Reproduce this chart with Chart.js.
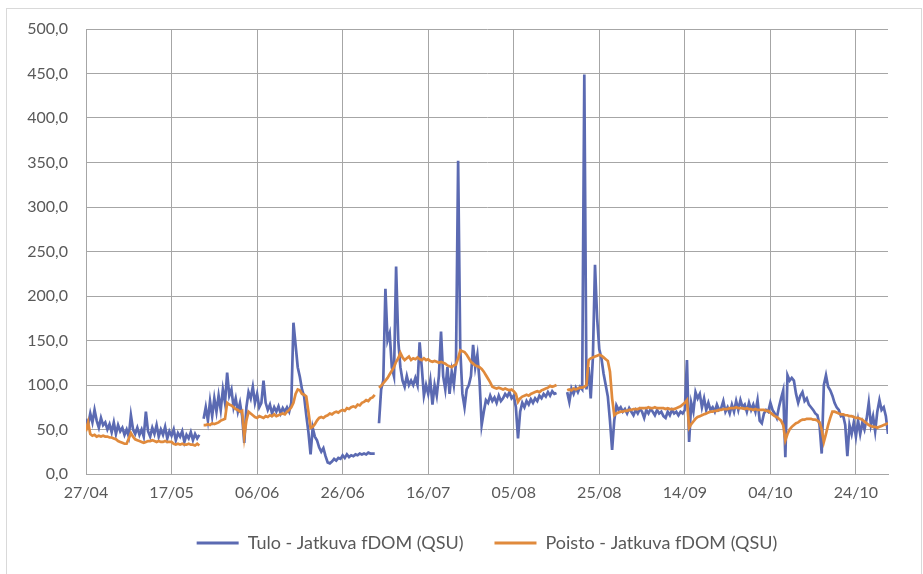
<!DOCTYPE html>
<html>
<head>
<meta charset="utf-8">
<script src="https://cdn.jsdelivr.net/npm/chart.js@4.4.1/dist/chart.umd.min.js"></script>
<style>
  html, body { margin: 0; padding: 0; background: #fff; }
  #wrap { position: relative; width: 923px; height: 574px; overflow: hidden; }
  #chart { display: block; }
  #frame { position: absolute; left: 6px; top: 8px; width: 916px; height: 580px; border: 1px solid #d9d9d9; box-sizing: border-box; pointer-events: none; }
</style>
</head>
<body>
<div id="wrap">
  <canvas id="chart" width="923" height="574"></canvas>
  <div id="frame"></div>
</div>
<script>
// one value every half day, starting 27/04; null = no measurement
const stepDays = 0.5;
const tickLabels = ['27/04', '17/05', '06/06', '26/06', '16/07', '05/08', '25/08', '14/09', '04/10', '24/10'];
const seriesNames = ['Tulo - Jatkuva fDOM (QSU)', 'Poisto - Jatkuva fDOM (QSU)'];

const tulo = [
    62, 55, 68, 58, 72, 60, 52, 63, 55, 58,
    50, 56, 47, 58, 45, 55, 48, 52, 44, 50,
    42, 66, 50, 45, 52, 44, 50, 42, 70, 48,
    42, 52, 45, 55, 42, 50, 44, 53, 40, 48,
    43, 50, 38, 46, 42, 48, 36, 44, 40, 47,
    38, 45, 40, 44, null, 62, 75, 60, 82, 65,
    85, 70, 88, 72, 95, 80, 114, 88, 95, 75,
    85, 70, 80, 65, 35, 75, 92, 85, 98, 80,
    90, 75, 80, 105, 80, 72, 78, 68, 75, 70,
    76, 68, 74, 70, 75, 70, 80, 170, 145, 120,
    109, 95, 87, 66, 47, 22, 52, 42, 38, 30,
    25, 29, 20, 13, 12, 14, 17, 15, 18, 17,
    21, 18, 22, 19, 21, 20, 22, 21, 23, 22,
    23, 22, 24, 23, 23, 23, null, 57, 95, 105,
    208, 150, 158, 120, 110, 233, 150, 120, 105, 98,
    110, 100, 105, 100, 108, 100, 148, 120, 88, 100,
    90, 105, 78, 100, 88, 110, 160, 110, 95, 120,
    90, 115, 100, 125, 352, 140, 90, 75, 95, 100,
    110, 145, 120, 134, 105, 55, 70, 83, 80, 88,
    82, 86, 80, 88, 82, 85, 90, 87, 92, 85,
    88, 75, 40, 70, 80, 75, 82, 78, 84, 80,
    85, 82, 88, 85, 90, 87, 92, 88, 93, 90,
    91, null, null, null, null, 92, 81, 96, 90, 97,
    92, 98, 95, 449, 95, 120, 85, 130, 235, 175,
    140, 130, 113, 100, 87, 60, 27, 60, 77, 72,
    75, 70, 73, 68, 74, 70, 66, 72, 68, 73,
    70, 63, 72, 68, 73, 70, 66, 72, 68, 70,
    65, 63, 70, 66, 72, 68, 70, 66, 70, 68,
    72, 128, 36, 80, 70, 92, 85, 90, 75, 85,
    72, 80, 72, 75, 70, 78, 72, 74, 82, 70,
    75, 68, 78, 70, 82, 72, 83, 75, 78, 70,
    80, 72, 78, 70, 83, 60, 57, 68, 72, 70,
    80, 72, 68, 63, 75, 85, 94, 19, 111, 105,
    108, 105, 90, 80, 88, 92, 82, 85, 78, 75,
    72, 68, 66, 55, 23, 100, 111, 98, 94, 88,
    80, 75, 72, 65, 66, 55, 20, 55, 45, 58,
    42, 60, 45, 58, 50, 62, 80, 55, 65, 48,
    70, 83, 72, 75, 65, 45
];

const poisto = [
    48, 58, 45, 43, 44, 42, 43, 42, 43, 42,
    42, 41, 41, 40, 39, 37, 36, 35, 34, 34,
    40, 46, 42, 39, 38, 37, 36, 35, 36, 37,
    37, 38, 37, 36, 37, 36, 36, 37, 36, 36,
    36, 34, 33, 34, 33, 34, 33, 33, 34, 33,
    33, 32, 34, 32, null, 55, 55, 56, 55, 57,
    56, 57, 58, 60, 61, 62, 80, 78, 77, 75,
    73, 72, 70, 71, 42, 60, 70, 68, 66, 64,
    63, 65, 64, 63, 65, 64, 66, 65, 67, 65,
    66, 67, 68, 67, 70, 72, 75, 80, 90, 95,
    94, 90, 89, 87, 70, 52, 53, 56, 60, 63,
    64, 63, 65, 66, 68, 67, 69, 70, 69, 71,
    72, 71, 74, 73, 75, 76, 75, 78, 77, 80,
    81, 83, 82, 85, 86, 89, null, 97, 99, 102,
    105, 108, 112, 116, 120, 126, 130, 136, 131, 128,
    130, 132, 128, 130, 129, 131, 129, 128, 130, 128,
    129, 127, 126, 127, 126, 125, 126, 125, 124, 122,
    121, 120, 122, 123, 130, 139, 138, 137, 134, 130,
    126, 124, 122, 121, 120, 118, 115, 111, 107, 103,
    98, 97, 96, 97, 96, 95, 96, 95, 94, 95,
    93, 90, 81, 85, 87, 88, 89, 88, 90, 91,
    92, 93, 92, 94, 95, 96, 97, 99, 98, 99,
    100, null, null, null, null, 94, 95, 94, 96, 95,
    96, 97, 97, 98, 100, 128, 130, 131, 132, 133,
    134, 133, 131, 129, 127, 115, 85, 66, 68, 69,
    70, 70, 71, 71, 72, 72, 73, 73, 73, 74,
    74, 74, 74, 75, 74, 74, 75, 74, 74, 74,
    74, 73, 74, 73, 73, 73, 74, 75, 76, 78,
    80, 83, 52, 56, 59, 62, 64, 65, 66, 67,
    68, 69, 70, 70, 71, 71, 72, 72, 73, 73,
    73, 74, 74, 74, 75, 74, 74, 74, 73, 74,
    73, 73, 72, 73, 72, 72, 72, 72, 71, 71,
    69, 67, 65, 64, 62, 60, 55, 38, 45, 50,
    53, 55, 57, 58, 60, 61, 61, 62, 62, 62,
    61, 61, 60, 58, 50, 36, 45, 55, 63, 70,
    70, 69, 68, 67, 67, 66, 66, 65, 65, 64,
    63, 63, 62, 61, 59, 57, 55, 54, 53, 53,
    52, 53, 54, 55, 56, 57
];

const textColor = '#595959';
const gridColor = '#a6a6a6';
const fontFamily = 'Lato, "Open Sans", sans-serif';

function toPoints(values) {
    return values.map((v, i) => ({x: i * stepDays, y: v}));
}

new Chart(document.getElementById('chart'), {
    type: 'line',
    data: {
        datasets: [
            {
                label: seriesNames[0],
                data: toPoints(tulo),
                borderColor: '#5b6ab2',
                backgroundColor: '#5b6ab2',
                borderWidth: 2.7,
                pointRadius: 0,
                tension: 0,
                order: 1
            },
            {
                label: seriesNames[1],
                data: toPoints(poisto),
                borderColor: '#e08a3c',
                backgroundColor: '#e08a3c',
                borderWidth: 2.7,
                pointRadius: 0,
                tension: 0,
                order: 0
            }
        ]
    },
    options: {
        responsive: false,
        animation: false,
        spanGaps: false,
        layout: {padding: {left: 0, right: 35, top: 29, bottom: 12}},
        plugins: {
            tooltip: {enabled: false},
            legend: {
                position: 'bottom',
                fullSize: false,
                labels: {
                    boxWidth: 42,
                    boxHeight: 3,
                    padding: 31,
                    color: textColor,
                    font: {family: fontFamily, size: 18},
                    sort: (a, b) => a.datasetIndex - b.datasetIndex,
                    generateLabels: chart => Chart.defaults.plugins.legend.labels.generateLabels(chart)
                        .map(item => ({...item, fillStyle: item.strokeStyle, lineWidth: 0}))
                }
            }
        },
        scales: {
            x: {
                type: 'linear',
                min: 0,
                max: 187.5,
                afterBuildTicks: scale => {
                    scale.ticks = scale.ticks.filter(t => t.value % 20 === 0);
                },
                afterFit: scale => {
                    scale.height = 29;
                },
                ticks: {
                    stepSize: 20,
                    includeBounds: false,
                    autoSkip: false,
                    maxRotation: 0,
                    padding: 9,
                    color: textColor,
                    font: {family: fontFamily, size: 16},
                    callback: v => tickLabels[v / 20]
                },
                grid: {color: gridColor, drawTicks: false},
                border: {color: gridColor}
            },
            y: {
                min: 0,
                max: 500,
                afterFit: scale => {
                    scale.width = 86;
                },
                ticks: {
                    stepSize: 50,
                    padding: 18,
                    color: textColor,
                    font: {family: fontFamily, size: 16},
                    callback: v => v.toFixed(1).replace('.', ',')
                },
                grid: {color: gridColor, drawTicks: false},
                border: {color: gridColor}
            }
        }
    }
});
</script>
</body>
</html>
